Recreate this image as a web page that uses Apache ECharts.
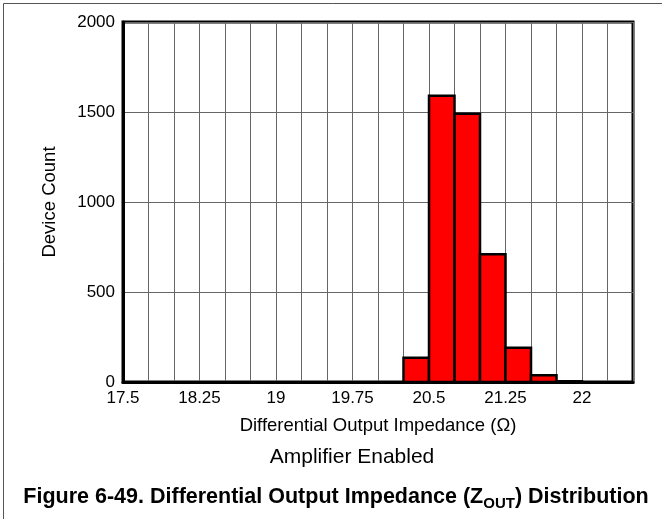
<!DOCTYPE html>
<html>
<head>
<meta charset="utf-8">
<style>
  html, body { margin: 0; padding: 0; background: #fff; }
  #chart { width: 662px; height: 519px; }
</style>
<script src="https://cdn.jsdelivr.net/npm/echarts@6/dist/echarts.min.js"></script>
</head>
<body>
<div id="chart"></div>
<script>
// Histogram bins (Ω) and device counts per bin
const binStart = [20.25, 20.5, 20.75, 21.0, 21.25, 21.5, 21.75];
const binEnd   = [20.5, 20.75, 21.0, 21.25, 21.5, 21.75, 22.0];
const counts   = [135, 1590, 1490, 710, 190, 38, 4];

// Axis ranges and tick labels
const xTickLabels = [17.5, 18.25, 19, 19.75, 20.5, 21.25, 22];
const yTicks = [0, 500, 1000, 1500, 2000];

const FONT = '"Liberation Sans", Arial, sans-serif';

const chart = echarts.init(document.getElementById('chart'), null, { renderer: 'canvas' });

const data = binStart.map((s, i) => [s, binEnd[i], counts[i]]);

chart.setOption({
  animation: false,
  backgroundColor: '#fff',
  grid: {
    left: 123, right: 29, top: 22, bottom: 137,
    show: true, borderColor: '#000', borderWidth: 3, backgroundColor: 'transparent'
  },
  xAxis: {
    type: 'value',
    min: 17.5, max: 22.5, interval: 0.25,
    name: 'Differential Output Impedance (Ω)',
    nameLocation: 'middle', nameGap: 34,
    nameTextStyle: { fontFamily: FONT, fontSize: 18.5, color: '#000' },
    axisLine: { show: true, lineStyle: { color: '#000', width: 3 } },
    axisTick: { show: false },
    splitLine: { show: true, lineStyle: { color: '#666', width: 1 } },
    axisLabel: {
      fontFamily: FONT, fontSize: 17, color: '#000', margin: 8,
      showMinLabel: true, showMaxLabel: true,
      formatter: v => {
        const hit = xTickLabels.find(t => Math.abs(t - v) < 1e-6);
        return hit === undefined ? '' : String(hit);
      }
    }
  },
  yAxis: {
    type: 'value',
    min: yTicks[0], max: yTicks[yTicks.length - 1], interval: 500,
    name: 'Device Count',
    nameLocation: 'middle', nameGap: 64,
    nameTextStyle: { fontFamily: FONT, fontSize: 18.5, color: '#000' },
    axisLine: { show: true, lineStyle: { color: '#000', width: 3 } },
    axisTick: { show: false },
    splitLine: { show: true, lineStyle: { color: '#666', width: 1 } },
    axisLabel: { fontFamily: FONT, fontSize: 17, color: '#000', margin: 8, formatter: v => String(v) }
  },
  series: [{
    type: 'custom',
    data: data,
    encode: { x: [0, 1], y: 2 },
    renderItem: (params, api) => {
      const top = api.coord([api.value(0), api.value(2)]);
      const bot = api.coord([api.value(1), 0]);
      return {
        type: 'rect',
        shape: { x: top[0], y: top[1], width: bot[0] - top[0], height: bot[1] - top[1] },
        style: { fill: '#ff0000', stroke: '#000', lineWidth: 2.5 }
      };
    },
    z: 3
  }],
  graphic: [
    { type: 'line', shape: { x1: 3.5, y1: 3.5, x2: 662, y2: 3.5 }, style: { stroke: '#555', lineWidth: 1 } },
    { type: 'line', shape: { x1: 3.5, y1: 3.5, x2: 3.5, y2: 519 }, style: { stroke: '#555', lineWidth: 1 } },
    {
      type: 'text', x: 352, y: 457,
      style: { text: 'Amplifier Enabled', font: '21px ' + FONT, fill: '#000', align: 'center', verticalAlign: 'middle' }
    },
    {
      type: 'text', x: 336, y: 495,
      style: {
        text: '{b|Figure 6-49. Differential Output Impedance (Z}{s|OUT}{b|) Distribution}',
        align: 'center', verticalAlign: 'middle',
        rich: {
          b: { fontFamily: FONT, fontSize: 21.5, fontWeight: 'bold', fill: '#000', verticalAlign: 'bottom', lineHeight: 26 },
          s: { fontFamily: FONT, fontSize: 15, fontWeight: 'bold', fill: '#000', verticalAlign: 'bottom', lineHeight: 20, padding: [0, 0, -3, 0] }
        }
      }
    }
  ]
});
</script>
</body>
</html>
